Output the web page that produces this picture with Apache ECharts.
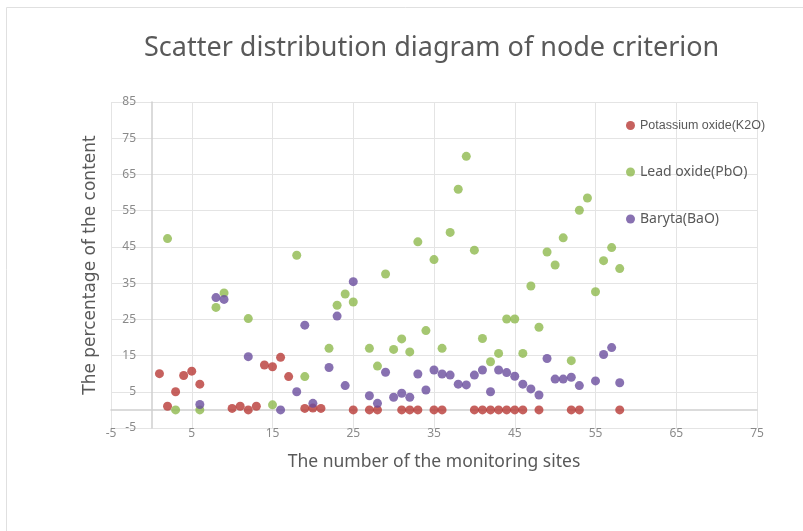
<!DOCTYPE html>
<html>
<head>
<meta charset="utf-8">
<script src="https://cdn.jsdelivr.net/npm/echarts@6/dist/echarts.min.js"></script>
<style>html,body{margin:0;padding:0;background:#fff;}#c{width:803px;height:531px;}</style>
</head>
<body>
<div id="c"></div>
<script>
// Site numbers and values
var k2oSites = [1,2,3,4,5,6,10,11,12,13,14,15,16,17,19,20,21,25,27,28,31,32,33,35,36,40,41,42,43,44,45,46,48,52,53,58];
var k2oValues = [10,1,5,9.5,10.7,7.1,0.4,1,0,1,12.4,11.9,14.5,9.2,0.4,0.5,0.4,0,0,0,0,0,0,0,0,0,0,0,0,0,0,0,0,0,0,0];

var pboSites = [2,3,6,8,9,12,15,18,19,22,23,24,25,27,28,29,30,31,32,33,34,35,36,37,38,39,40,41,42,43,44,45,46,47,48,49,50,51,52,53,54,55,56,57,58];
var pboValues = [47.3,0,0,28.3,32.3,25.2,1.4,42.7,9.2,17,28.9,32,29.8,17,12.1,37.5,16.7,19.6,16,46.4,21.9,41.5,17,49,60.9,70,44.1,19.7,13.3,15.6,25.1,25.1,15.6,34.2,22.8,43.6,40,47.5,13.6,55.1,58.5,32.6,41.2,44.8,39];

var baoSites = [6,8,9,12,16,18,19,20,22,23,24,25,27,28,29,30,31,32,33,34,35,36,37,38,39,40,41,42,43,44,45,46,47,48,49,50,51,52,53,55,56,57,58];
var baoValues = [1.5,31,30.5,14.7,0,5,23.4,1.8,11.7,25.9,6.7,35.4,3.9,1.8,10.4,3.5,4.6,3.5,9.9,5.5,11,9.9,9.6,7.1,6.9,9.6,11,5,11,10.3,9.3,7.1,5.8,4.1,14.2,8.5,8.5,9,6.7,8,15.3,17.2,7.5];

var seriesNames = ['Potassium oxide(K2O)', 'Lead oxide(PbO)', 'Baryta(BaO)'];
var titleText = 'Scatter distribution diagram of node criterion';
var xName = 'The number of the monitoring sites';
var yName = 'The percentage of the content';

function pairs(xs, ys) { return xs.map(function (x, i) { return [x, ys[i]]; }); }

var colors = ['#b83a36', '#8fb94e', '#6a4e9e'];
var chart = echarts.init(document.getElementById('c'));
chart.setOption({
  animation: false,
  backgroundColor: '#fff',
  color: colors,
  graphic: [{
    type: 'rect', shape: { x: 6.5, y: 7.5, width: 810, height: 540 },
    style: { fill: 'none', stroke: '#e0e0e0', lineWidth: 1 }, silent: true, z: -1
  }],
  title: {
    text: titleText, left: 139, top: 30,
    textStyle: { fontFamily: 'Noto Sans', fontSize: 27, fontWeight: 'normal', color: '#595959' }
  },
  legend: {
    orient: 'vertical', left: 621, top: 114, itemGap: 33,
    icon: 'circle', itemWidth: 9, itemHeight: 9,
    textStyle: { fontFamily: 'Noto Sans', fontSize: 14, color: '#595959' },
    data: [
      { name: seriesNames[0], textStyle: { fontFamily: 'Liberation Sans', fontSize: 12.5, color: '#595959' } },
      { name: seriesNames[1] },
      { name: seriesNames[2] }
    ]
  },
  grid: { left: 111, right: 46, top: 102, bottom: 103 },
  xAxis: {
    type: 'value', min: -5, max: 75, interval: 10,
    name: xName, nameLocation: 'middle', nameGap: 25,
    nameTextStyle: { fontFamily: 'Noto Sans', fontSize: 17.5, color: '#595959' },
    axisLine: { onZero: true, lineStyle: { color: '#cfcfcf', width: 1.5 } },
    axisTick: { show: false },
    axisLabel: { margin: 0, fontFamily: 'Noto Sans', fontSize: 12, color: '#8a8a8a' },
    splitLine: { show: true, lineStyle: { color: '#e4e4e4' } }
  },
  yAxis: {
    type: 'value', min: -5, max: 85, interval: 10,
    name: yName, nameLocation: 'middle', nameGap: 12,
    nameTextStyle: { fontFamily: 'DejaVu Sans', fontSize: 17, color: '#595959' },
    axisLine: { show: true, onZero: true, lineStyle: { color: '#cfcfcf', width: 1.5 } },
    axisTick: { show: false },
    axisLabel: { margin: -25, fontFamily: 'Noto Sans', fontSize: 12, color: '#8a8a8a' },
    splitLine: { show: true, lineStyle: { color: '#e4e4e4' } }
  },
  series: [
    { name: seriesNames[0], type: 'scatter', symbolSize: 9, data: pairs(k2oSites, k2oValues) },
    { name: seriesNames[1], type: 'scatter', symbolSize: 9, data: pairs(pboSites, pboValues) },
    { name: seriesNames[2], type: 'scatter', symbolSize: 9, data: pairs(baoSites, baoValues) }
  ]
});
</script>
</body>
</html>
